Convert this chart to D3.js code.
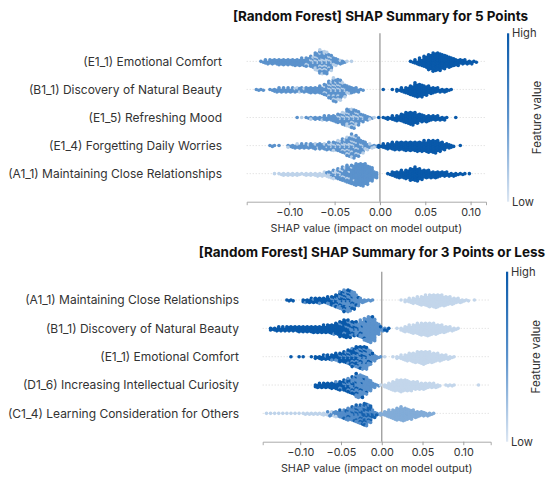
<!DOCTYPE html>
<html>
<head>
<meta charset="utf-8">
<script src="https://cdn.jsdelivr.net/npm/d3@7"></script>
<style>
  body { margin: 0; background: #fff; }
  svg { display: block; font-family: Inter, 'Noto Sans', sans-serif; }
</style>
</head>
<body>
<div id="chart"></div>
<script>
const binWidth = 0.005
const xTicks = [-0.1, -0.05, 0, 0.05, 0.1]

// upper panel
const fiveTitle = '[Random Forest] SHAP Summary for 5 Points'
const fiveFeatures = [
  '(E1_1) Emotional Comfort',
  '(B1_1) Discovery of Natural Beauty',
  '(E1_5) Refreshing Mood',
  '(E1_4) Forgetting Daily Worries',
  '(A1_1) Maintaining Close Relationships'
]
// [row, feature value 0 (low) .. 1 (high), first bin centre, dots per 0.005 bin ...]
const fiveBins = [
  [0, 0.5, -0.130, 2, 5, 6, 6, 7, 7, 7, 8, 8, 9, 9, 10, 14, 18, 17, 13, 8, 5, 3],
  [0, 0.15, -0.080, 2, 4, 8, 11, 11, 7, 2, 1, 0, 1, 1],
  [0, 1, 0.035, 2, 5, 9, 14, 19, 23, 22, 18, 14, 11, 8, 6, 5, 4, 2],

  [1, 0.5, -0.135, 2, 2, 0, 2, 4, 5, 5, 5, 5, 4, 5, 6, 7, 7, 9, 11, 15, 19, 17, 12, 8, 7, 5, 2],
  [1, 0.15, -0.095, 1, 2, 1, 0, 0, 0, 0, 3, 7, 10, 9, 5, 2],
  [1, 1, 0.005, 1, 0, 1, 3, 5, 8, 12, 17, 16, 12, 9, 7, 5, 4, 3, 1],

  [2, 0.5, -0.090, 1, 0, 2, 2, 3, 3, 5, 6, 8, 8, 11, 14, 15, 12, 7, 6, 2],
  [2, 0.15, -0.085, 1, 0, 1, 0, 1, 0, 0, 0, 3, 5, 8, 9, 6, 3, 0, 1, 1],
  [2, 1, 0.000, 1, 2, 3, 5, 7, 10, 14, 16, 13, 10, 8, 7, 6, 5, 4, 1, 0, 1],

  [3, 0.5, -0.120, 2, 1, 1, 0, 2, 4, 4, 5, 5, 6, 5, 7, 6, 6, 7, 9, 11, 15, 20, 19, 12, 7, 3, 2],
  [3, 0.15, -0.100, 1, 0, 1, 0, 1, 0, 2, 0, 2, 3, 4, 5, 7, 9, 9, 6, 4, 2, 2, 1],
  [3, 1, 0.000, 3, 5, 7, 9, 10, 10, 11, 11, 12, 12, 13, 15, 16, 13, 9, 6, 3, 0, 1],

  [4, 0.12, -0.115, 1, 2, 3, 3, 3, 3, 2, 3, 3, 4, 4, 5, 5, 5, 4, 4, 3, 2],
  [4, 0.5, -0.060, 1, 3, 6, 10, 14, 18, 22, 27, 28, 25, 18, 8],
  [4, 1, 0.010, 2, 6, 8, 9, 11, 15, 17, 13, 10, 9, 8, 7, 6, 5, 4, 3, 2, 1, 1]
]

// lower panel
const threeTitle = '[Random Forest] SHAP Summary for 3 Points or Less'
const threeFeatures = [
  '(A1_1) Maintaining Close Relationships',
  '(B1_1) Discovery of Natural Beauty',
  '(E1_1) Emotional Comfort',
  '(D1_6) Increasing Intellectual Curiosity',
  '(C1_4) Learning Consideration for Others'
]
const threeBins = [
  [0, 1, -0.115, 2, 2, 0, 0, 3, 4, 5, 6, 6, 6, 7, 8, 9, 10, 10, 8, 5, 2],
  [0, 0.5, -0.095, 1, 0, 1, 0, 1, 0, 2, 4, 7, 12, 17, 19, 17, 11, 5, 3, 2, 1],
  [0, 0.1, 0.025, 1, 3, 5, 7, 9, 11, 13, 15, 16, 15, 13, 11, 9, 7, 5, 3, 2, 0, 1],

  [1, 1, -0.135, 3, 4, 5, 5, 6, 6, 6, 7, 7, 7, 8, 8, 8, 9, 10, 11, 14, 17, 19, 15, 9, 5, 3, 2, 0, 1, 0, 1, 2, 1],
  [1, 0.5, -0.060, 1, 0, 2, 3, 6, 9, 12, 18, 26, 32, 28, 14, 4, 2],
  [1, 0.1, 0.020, 1, 4, 7, 9, 11, 13, 15, 16, 15, 13, 11, 9, 7, 5, 3, 1],

  [2, 1, -0.110, 1, 0, 1, 1, 0, 1, 3, 4, 5, 5, 6, 7, 8, 10, 12, 14, 14, 12, 8, 3, 1],
  [2, 0.5, -0.070, 1, 0, 1, 2, 3, 4, 6, 9, 12, 16, 20, 16, 8, 3, 1],
  [2, 0.1, 0.005, 1, 0, 1, 3, 5, 8, 10, 12, 14, 16, 15, 13, 11, 9, 7, 5, 3, 1],

  [3, 1, -0.080, 4, 5, 6, 6, 7, 8, 9, 10, 10, 9, 7, 4, 2],
  [3, 0.5, -0.055, 1, 2, 4, 7, 13, 22, 24, 20, 14, 6, 2],
  [3, 0.1, 0.000, 1, 4, 8, 12, 14, 15, 14, 12, 10, 9, 8, 7, 6, 5, 3, 0, 2, 2, 1, 0, 0, 0, 0, 0, 1],

  [4, 0.12, -0.140, 1, 1, 1, 1, 1, 1, 1, 1, 1, 2, 2, 2, 2, 2, 3, 3, 2, 1],
  [4, 0.55, -0.065, 2, 4, 6, 8, 10, 12, 13, 14, 14, 13, 9, 4, 2],
  [4, 0.92, -0.050, 1, 2, 3, 5, 7, 10, 15, 13, 5, 1],
  [4, 0.35, 0.000, 3, 6, 9, 12, 15, 17, 15, 12, 9, 7, 6, 4, 3, 1]
]

const width = 550
const height = 480

const svg = d3
  .select('#chart')
  .append('svg')
  .attr('width', width)
  .attr('height', height)

const color = d3
  .scaleLinear()
  .domain([0, 0.5, 1])
  .range(['#dde7f3', '#5b92cc', '#0959aa'])

const defs = svg.append('defs')
const grad = defs
  .append('linearGradient')
  .attr('id', 'fv')
  .attr('x1', 0)
  .attr('y1', 1)
  .attr('x2', 0)
  .attr('y2', 0)
d3.range(0, 1.01, 0.25).forEach(t => {
  grad
    .append('stop')
    .attr('offset', t)
    .attr('stop-color', color(t))
})

drawSummary({
  title: fiveTitle,
  titleX: 380.5,
  titleY: 21,
  labelX: 222,
  features: fiveFeatures,
  bins: fiveBins,
  domain: [-0.147, 0.117],
  xRange: [246.7, 486],
  yRange: [33.3, 201.7],
  barX: 507
})

drawSummary({
  title: threeTitle,
  titleX: 372,
  titleY: 257,
  labelX: 239,
  features: threeFeatures,
  bins: threeBins,
  domain: [-0.146, 0.1336],
  xRange: [262.7, 490.7],
  yRange: [271.7, 441.7],
  barX: 506
})

function drawSummary(opts) {
  const g = svg.append('g')

  const x = d3.scaleLinear().domain(opts.domain).range(opts.xRange)
  const y = d3
    .scalePoint()
    .domain(d3.range(opts.features.length))
    .range(opts.yRange)
    .padding(1)

  const binPx = x(binWidth) - x(0)
  const step = 1.65

  // faint row guides
  g.selectAll('.guide')
    .data(opts.features)
    .enter()
    .append('line')
    .attr('class', 'guide')
    .attr('x1', opts.xRange[0])
    .attr('x2', opts.xRange[1])
    .attr('y1', (d, i) => y(i))
    .attr('y2', (d, i) => y(i))
    .attr('stroke', '#cfcfcf')
    .attr('stroke-width', 0.8)
    .attr('stroke-dasharray', '1,2')

  // zero line
  g.append('line')
    .attr('x1', x(0))
    .attr('x2', x(0))
    .attr('y1', opts.yRange[0])
    .attr('y2', opts.yRange[1])
    .attr('stroke', '#9a9a9a')
    .attr('stroke-width', 1.3)

  // stack the dots of each bin outward from the row centre,
  // keeping small runs of one colour together
  const rows = opts.features.map(() => new Map())
  opts.bins.forEach(([row, level, start, ...counts]) => {
    counts.forEach((c, i) => {
      const v = +(start + i * binWidth).toFixed(3)
      if (!rows[row].has(v)) rows[row].set(v, [])
      const cell = rows[row].get(v)
      for (let k = 0; k < c; k++) {
        cell.push({ level, order: (Math.floor(k / 3) * 3 + 1.5) / c + level * 0.001 })
      }
    })
  })

  const dots = []
  rows.forEach((cells, r) => {
    cells.forEach((cell, v) => {
      cell.sort((a, b) => a.order - b.order)
      cell.forEach((d, i) => {
        const col = i % 2
        const k = Math.floor(i / 2)
        const off = k === 0 ? 0 : (k % 2 ? 1 : -1) * Math.ceil(k / 2)
        dots.push({
          v,
          row: r,
          level: d.level,
          dx: col ? 0.27 : -0.27,
          dy: off + (col ? 0.5 : 0)
        })
      })
    })
  })

  g.selectAll('.dot')
    .data(dots)
    .enter()
    .append('circle')
    .attr('class', 'dot')
    .attr('cx', d => x(d.v) + d.dx * binPx)
    .attr('cy', d => y(d.row) + d.dy * step)
    .attr('r', 1.8)
    .attr('fill', d => color(d.level))

  // x axis
  const axis = g
    .append('g')
    .attr('transform', `translate(0,${opts.yRange[1]})`)
    .call(
      d3
        .axisBottom(x)
        .tickValues(xTicks)
        .tickFormat(d3.format('.2f'))
        .tickSizeOuter(0)
        .tickSize(3.5)
        .tickPadding(3)
    )
  axis.select('.domain').attr('stroke', '#a0a0a0').attr('stroke-width', 0.9)
  axis.selectAll('.tick line').attr('stroke', '#a0a0a0')
  axis
    .selectAll('.tick text')
    .attr('font-size', 10.8)
    .attr('font-family', 'Inter, sans-serif')
    .attr('fill', '#333')

  g.append('text')
    .attr('x', (opts.xRange[0] + opts.xRange[1]) / 2)
    .attr('y', opts.yRange[1] + 30.5)
    .attr('text-anchor', 'middle')
    .attr('font-size', 10.8)
    .attr('fill', '#333')
    .text('SHAP value (impact on model output)')

  // feature labels
  g.selectAll('.label')
    .data(opts.features)
    .enter()
    .append('text')
    .attr('class', 'label')
    .attr('x', opts.labelX)
    .attr('y', (d, i) => y(i))
    .attr('dy', '0.35em')
    .attr('text-anchor', 'end')
    .attr('font-size', 12)
    .attr('fill', '#333')
    .text(d => d)

  // title
  g.append('text')
    .attr('x', opts.titleX)
    .attr('y', opts.titleY)
    .attr('text-anchor', 'middle')
    .attr('font-size', 13.5)
    .attr('font-weight', 'bold')
    .attr('fill', '#111')
    .text(opts.title)

  // colour bar
  g.append('rect')
    .attr('x', opts.barX)
    .attr('y', opts.yRange[0])
    .attr('width', 2.2)
    .attr('height', opts.yRange[1] - opts.yRange[0])
    .attr('fill', 'url(#fv)')

  g.append('text')
    .attr('x', opts.barX + 5)
    .attr('y', opts.yRange[0])
    .attr('dy', '0.35em')
    .attr('font-size', 11.2)
    .attr('fill', '#333')
    .text('High')

  g.append('text')
    .attr('x', opts.barX + 5)
    .attr('y', opts.yRange[1])
    .attr('dy', '0.35em')
    .attr('font-size', 11.2)
    .attr('fill', '#333')
    .text('Low')

  g.append('text')
    .attr(
      'transform',
      `translate(${opts.barX + 34},${(opts.yRange[0] + opts.yRange[1]) / 2}) rotate(-90)`
    )
    .attr('text-anchor', 'middle')
    .attr('font-size', 11.5)
    .attr('fill', '#333')
    .text('Feature value')
}
</script>
</body>
</html>
